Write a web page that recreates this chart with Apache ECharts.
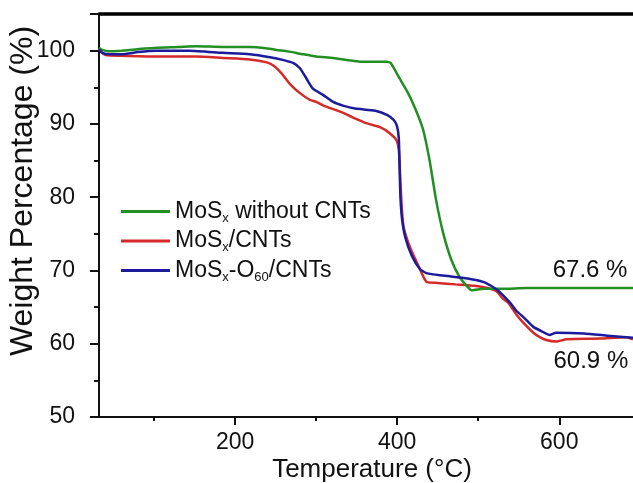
<!DOCTYPE html>
<html>
<head>
<meta charset="utf-8">
<script src="https://cdn.jsdelivr.net/npm/echarts@6/dist/echarts.min.js"></script>
<style>
html,body{margin:0;padding:0;background:#fff;}
#chart{width:633px;height:483px;}
</style>
</head>
<body>
<div id="chart"></div>
<script>
// ---- data ----
var seriesNames = ['MoSx without CNTs', 'MoSx/CNTs', 'MoSx-O60/CNTs'];
var xMajorTicks = [200, 400, 600];
var xMinorTicks = [100, 300, 500];
var annotations = ['67.6 %', '60.9 %'];

var greenTemp   = [32, 36, 45, 60, 80, 103, 130, 152, 185, 218, 240, 251, 265, 284, 300, 321, 340, 354, 370, 387, 392, 403, 413, 423, 432, 440, 448, 457, 467, 477, 485, 492, 507, 530, 560, 600, 640, 691];
var greenWeight = [100.4, 100.1, 99.9, 100.0, 100.2, 100.4, 100.5, 100.6, 100.5, 100.5, 100.3, 100.1, 99.9, 99.5, 99.2, 99.0, 98.7, 98.5, 98.5, 98.5, 98.3, 96.2, 94.3, 91.9, 89.2, 85.0, 79.6, 75.0, 71.4, 69.1, 68.0, 67.3, 67.5, 67.5, 67.6, 67.6, 67.6, 67.6];

var redTemp   = [32, 35, 40, 60, 103, 152, 185, 218, 239, 248, 258, 268, 280, 292, 300, 309, 329, 345, 362, 380, 390, 399, 402, 404, 406, 408, 413, 418, 428, 433, 437, 450, 472, 495, 507, 522, 530, 537, 547, 557, 568, 576, 584, 596, 609, 650, 683, 691];
var redWeight = [100.3, 99.8, 99.4, 99.3, 99.2, 99.2, 99.0, 98.8, 98.4, 97.9, 96.8, 95.4, 94.2, 93.3, 93.0, 92.5, 91.7, 90.9, 90.1, 89.5, 88.8, 87.8, 86.5, 82.0, 78.0, 75.9, 74.0, 72.6, 70.2, 69.0, 68.4, 68.3, 68.1, 67.9, 67.7, 67.2, 66.2, 65.6, 64.0, 62.7, 61.5, 60.9, 60.5, 60.3, 60.6, 60.7, 60.9, 60.6];

var blueTemp   = [32, 36, 45, 60, 80, 103, 143, 185, 218, 243, 260, 272, 280, 288, 296, 308, 321, 333, 348, 373, 388, 396, 400, 402, 403, 404, 406, 410, 418, 428, 437, 457, 487, 507, 520, 527, 540, 547, 557, 568, 580, 588, 596, 630, 660, 691];
var blueWeight = [100.2, 99.7, 99.5, 99.5, 99.8, 100.0, 100.0, 99.7, 99.5, 99.1, 98.7, 98.3, 97.6, 96.2, 94.8, 94.0, 93.0, 92.5, 92.1, 91.8, 91.2, 90.5, 89.6, 88.0, 84.0, 80.0, 77.0, 74.5, 72.0, 70.2, 69.6, 69.3, 68.9, 68.4, 67.6, 67.0, 65.5, 64.5, 63.5, 62.3, 61.6, 61.2, 61.5, 61.4, 61.1, 60.8];

var annotationPos = [[638, 70.0], [639, 57.6]];

function pairs(t, w) { return t.map(function (v, i) { return [v, w[i]]; }); }

var FONT = '"Liberation Sans", Arial, sans-serif';
var colors = ['#238f23', '#d42a2a', '#1b1b9c'];

var legendRich = {
  n: { fontFamily: FONT, fontSize: 23, color: '#111', lineHeight: 26 },
  s: { fontFamily: FONT, fontSize: 13, color: '#111', lineHeight: 12, verticalAlign: 'bottom' }
};
function legendFmt(name) {
  if (name === seriesNames[0]) return '{n|MoS}{s|x}{n| without CNTs}';
  if (name === seriesNames[1]) return '{n|MoS}{s|x}{n|/CNTs}';
  return '{n|MoS}{s|x}{n|-O}{s|60}{n|/CNTs}';
}

var chart = echarts.init(document.getElementById('chart'), null, { renderer: 'canvas' });

chart.setOption({
  backgroundColor: '#ffffff',
  animation: false,
  grid: { left: 99, right: 0, top: 14, bottom: 66, containLabel: false, outerBoundsMode: 'none' },
  legend: {
    orient: 'vertical', left: 121, top: 200, padding: 0, itemWidth: 49, itemHeight: 3, itemGap: 5,
    icon: 'rect',
    data: seriesNames, formatter: legendFmt,
    textStyle: { rich: legendRich, fontFamily: FONT, fontSize: 23 }
  },
  xAxis: [{
    type: 'value', min: 32, max: 691, position: 'bottom',
    name: 'Temperature (°C)', nameLocation: 'middle', nameGap: 40, nameMoveOverlap: false,
    nameTextStyle: { fontFamily: FONT, fontSize: 26, color: '#111', padding: [0, 0, 0, 12] },
    axisLine: { show: true, onZero: false, lineStyle: { color: '#111', width: 2 } },
    axisTick: { show: true, inside: false, length: 8, customValues: xMajorTicks, lineStyle: { color: '#111', width: 2 } },
    axisLabel: { customValues: xMajorTicks, margin: 14, fontFamily: FONT, fontSize: 23, color: '#111' },
    splitLine: { show: false }
  }, {
    type: 'value', min: 32, max: 691, position: 'bottom',
    axisLine: { show: false },
    axisTick: { show: true, inside: false, length: 4, customValues: xMinorTicks, lineStyle: { color: '#111', width: 2 } },
    axisLabel: { show: false },
    splitLine: { show: false }
  }, {
    type: 'value', min: 32, max: 691, position: 'top',
    axisLine: { show: true, onZero: false, lineStyle: { color: '#000', width: 3.5 } },
    axisTick: { show: false }, axisLabel: { show: false }, splitLine: { show: false }
  }],
  yAxis: {
    type: 'value', min: 50, max: 105, interval: 10,
    name: 'Weight Percentage (%)', nameLocation: 'middle', nameGap: 60, nameRotate: 90, nameMoveOverlap: false,
    nameTextStyle: { fontFamily: FONT, fontSize: 32, color: '#111', padding: [0, 0, 0, 49] },
    axisLine: { show: true, onZero: false, lineStyle: { color: '#111', width: 2 } },
    axisTick: { show: true, inside: false, length: 9, lineStyle: { color: '#111', width: 2 } },
    minorTick: { show: true, splitNumber: 2, length: 5, lineStyle: { color: '#111', width: 2 } },
    axisLabel: { margin: 24, showMaxLabel: false, fontFamily: FONT, fontSize: 23, color: '#111',
      formatter: function (v) { return v > 100 ? '' : String(v); } },
    splitLine: { show: false }
  },
  series: [{
    name: seriesNames[0], type: 'line', xAxisIndex: 0, data: pairs(greenTemp, greenWeight),
    symbol: 'none', smooth: 0.2, lineStyle: { color: colors[0], width: 2.5 }, itemStyle: { color: colors[0] }, z: 3,
    markPoint: {
      symbol: 'rect', symbolSize: 1, itemStyle: { color: 'rgba(0,0,0,0)' },
      label: { show: true, position: 'inside', fontFamily: FONT, fontSize: 24, color: '#111' },
      data: [{ coord: annotationPos[0], value: annotations[0], label: { formatter: annotations[0] } }]
    }
  }, {
    name: seriesNames[1], type: 'line', xAxisIndex: 0, data: pairs(redTemp, redWeight),
    symbol: 'none', smooth: 0.2, lineStyle: { color: colors[1], width: 2.5 }, itemStyle: { color: colors[1] }, z: 2,
    markPoint: {
      symbol: 'rect', symbolSize: 1, itemStyle: { color: 'rgba(0,0,0,0)' },
      label: { show: true, position: 'inside', fontFamily: FONT, fontSize: 24, color: '#111' },
      data: [{ coord: annotationPos[1], value: annotations[1], label: { formatter: annotations[1] } }]
    }
  }, {
    name: seriesNames[2], type: 'line', xAxisIndex: 0, data: pairs(blueTemp, blueWeight),
    symbol: 'none', smooth: 0.2, lineStyle: { color: colors[2], width: 2.5 }, itemStyle: { color: colors[2] }, z: 3
  }]
});
</script>
</body>
</html>
